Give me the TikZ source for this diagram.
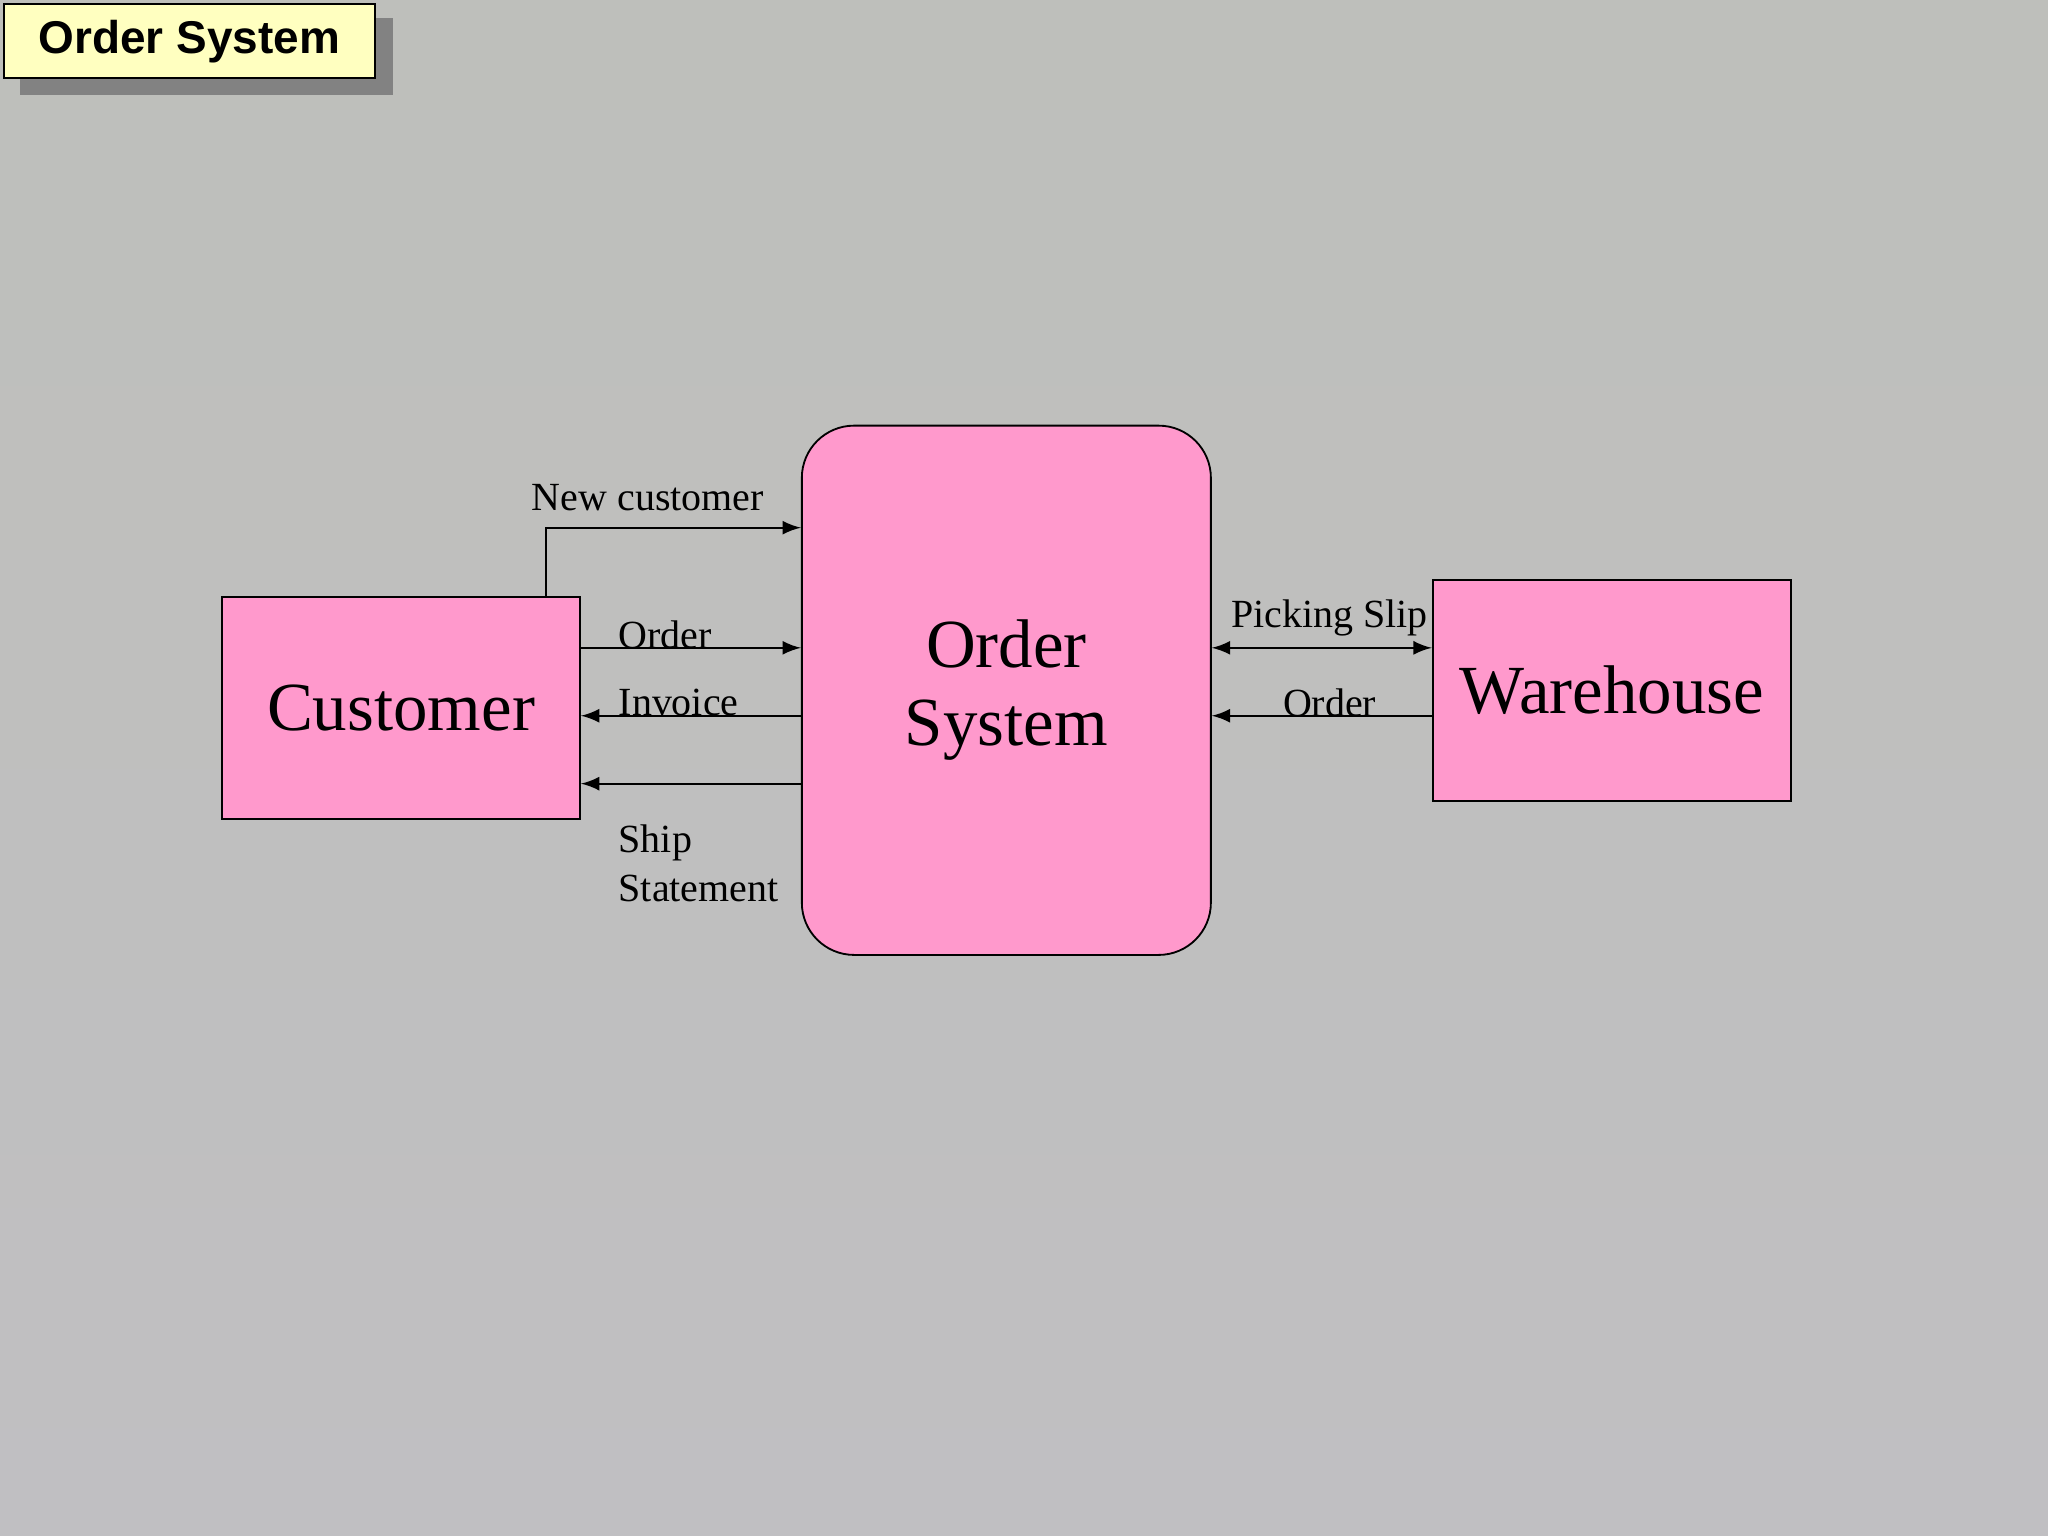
\documentclass[tikz,border=0pt]{standalone}
\usepackage{fontspec}
\setmainfont{Liberation Serif}
\newfontfamily\titlefont{Liberation Sans}
\usetikzlibrary{positioning}
\definecolor{bgtop}{HTML}{BEBFBB}
\definecolor{bgbot}{HTML}{C0BFC2}
\definecolor{boxpink}{HTML}{FF99CC}
\definecolor{titleyellow}{HTML}{FFFFC0}
\tikzset{
  entity/.style={draw=black, fill=boxpink, inner sep=0pt, font=\fontsize{15}{17}\selectfont, align=center},
  flow/.style={-latex, thin},
  lbl/.style={font=\fontsize{8.7}{10.5}\selectfont, inner sep=0pt}
}
\begin{document}
\begin{tikzpicture}[x=0.01cm, y=-0.01cm]
\useasboundingbox (0,0) rectangle (1568,1176);
\shade[top color=bgtop, bottom color=bgbot] (0,0) rectangle (1568,1176);
% title
\fill[gray!60!black!70] (15,14) rectangle (301,73);
\node[draw=black, fill=titleyellow, minimum width=2.84cm, minimum height=0.57cm,
  font=\titlefont\bfseries\fontsize{10}{12}\selectfont] (title) at (145,31.5) {Order System};
% entities
\node[entity, minimum width=2.74cm, minimum height=1.70cm] (cust) at (307,542) {Customer};
\node[entity, rounded corners=0.4cm, minimum width=3.13cm, minimum height=4.05cm] (sys) at (770.5,528.5) {Order\\System};
\node[entity, minimum width=2.74cm, minimum height=1.69cm] (ware) at (1234,528.5) {Warehouse};
% flows
\coordinate (nc) at (418,404);
\draw[flow] (cust.north -| nc) -- (nc) -- (nc -| sys.west);
\node[lbl] (lnc) at (496,381) {New customer};
\draw[flow] (cust.east |- 0,496) -- (sys.west |- 0,496);
\node[lbl, anchor=west] (lord) at (473,486) {Order};
\draw[flow] (sys.west |- 0,548) -- (cust.east |- 0,548);
\node[lbl, anchor=west] (linv) at (473,538) {Invoice};
\draw[flow] (sys.west |- 0,600) -- (cust.east |- 0,600);
\node[lbl, anchor=west, align=left] (lship) at (473,661) {Ship\\Statement};
\draw[flow, latex-latex] (sys.east |- 0,496) -- (ware.west |- 0,496);
\node[lbl] (lpick) at (1018,473) {Picking Slip};
\draw[flow] (ware.west |- 0,548) -- (sys.east |- 0,548);
\node[lbl] (lord2) at (1018,538) {Order};
\end{tikzpicture}
\end{document}
